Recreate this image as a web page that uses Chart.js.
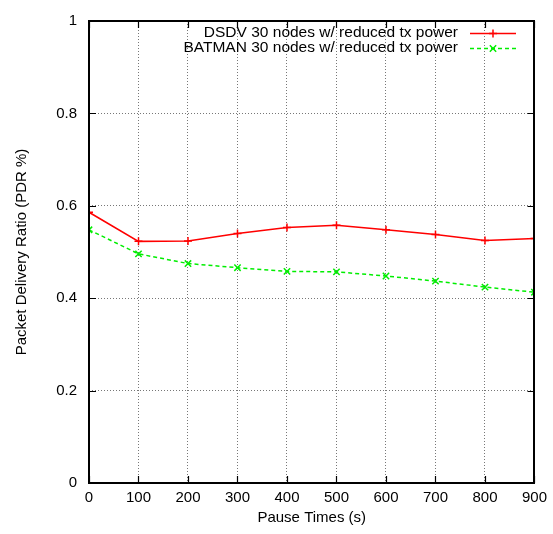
<!DOCTYPE html>
<html>
<head>
<meta charset="utf-8">
<script src="https://cdn.jsdelivr.net/npm/chart.js@4.4.0/dist/chart.umd.min.js"></script>
<style>
  body { margin: 0; background: #fff; }
  #wrap { width: 553px; height: 534px; }
</style>
</head>
<body>
<div id="wrap"><canvas id="chart" width="553" height="534"></canvas></div>
<script>
const pauseTimes = [0, 100, 200, 300, 400, 500, 600, 700, 800, 900];
const dsdvPdr = [0.586, 0.523, 0.524, 0.540, 0.553, 0.558, 0.548, 0.538, 0.525, 0.529];
const batmanPdr = [0.548, 0.496, 0.475, 0.466, 0.458, 0.457, 0.448, 0.437, 0.424, 0.413];
const seriesNames = ['DSDV 30 nodes w/ reduced tx power', 'BATMAN 30 nodes w/ reduced tx power'];

const FONT = 'Liberation Sans, Arial, sans-serif';
const toPoints = (ys) => pauseTimes.map((x, i) => ({ x: x, y: ys[i] }));

// gnuplot-ish frame: border, inward ticks on all sides, legend box
const frame = {
  id: 'frame',
  afterDraw(chart) {
    const ctx = chart.ctx;
    const { left, right, top, bottom } = chart.chartArea;
    const xs = chart.scales.x, ys = chart.scales.y;
    const tl = 7;
    ctx.save();
    ctx.strokeStyle = '#000';
    ctx.lineWidth = 1.2;
    ctx.beginPath();
    xs.ticks.forEach(t => {
      const px = Math.round(xs.getPixelForValue(t.value)) + 0.5;
      ctx.moveTo(px, bottom); ctx.lineTo(px, bottom - tl);
      ctx.moveTo(px, top); ctx.lineTo(px, top + tl);
    });
    ys.ticks.forEach(t => {
      const py = Math.round(ys.getPixelForValue(t.value)) + 0.5;
      ctx.moveTo(left, py); ctx.lineTo(left + tl, py);
      ctx.moveTo(right, py); ctx.lineTo(right - tl, py);
    });
    ctx.stroke();
    ctx.lineWidth = 2;
    ctx.strokeRect(Math.round(left), Math.round(top),
      Math.round(right - left), Math.round(bottom - top));

    // legend
    ctx.font = '15.5px ' + FONT;
    ctx.textAlign = 'right';
    ctx.textBaseline = 'middle';
    chart.data.datasets.forEach((ds, i) => {
      const y = 33 + i * 15;
      ctx.fillStyle = '#000';
      ctx.fillText(ds.label, 458, y);
      ctx.strokeStyle = ds.borderColor;
      ctx.lineWidth = ds.borderWidth;
      ctx.setLineDash(ds.borderDash || []);
      ctx.beginPath();
      ctx.moveTo(470, y + 0.5); ctx.lineTo(516, y + 0.5);
      ctx.stroke();
      ctx.setLineDash([]);
      Chart.helpers.drawPoint(ctx, {
        pointStyle: ds.pointStyle, radius: ds.pointRadius, borderWidth: ds.pointBorderWidth
      }, 493, y + 0.5);
    });
    ctx.restore();
  }
};

new Chart(document.getElementById('chart'), {
  type: 'line',
  data: {
    datasets: [
      {
        label: seriesNames[0],
        data: toPoints(dsdvPdr),
        borderColor: '#ff0000',
        backgroundColor: '#ff0000',
        borderWidth: 1.5,
        pointStyle: 'cross',
        pointRadius: 4,
        pointBorderWidth: 1.5,
        fill: false,
        tension: 0
      },
      {
        label: seriesNames[1],
        data: toPoints(batmanPdr),
        borderColor: '#00ee00',
        backgroundColor: '#00ee00',
        borderWidth: 1.5,
        borderDash: [4, 3],
        pointStyle: 'crossRot',
        pointRadius: 4.5,
        pointBorderWidth: 1.5,
        fill: false,
        tension: 0
      }
    ]
  },
  options: {
    responsive: false,
    animation: false,
    events: [],
    layout: { padding: { left: 0, right: 18, top: 17, bottom: 0 } },
    plugins: {
      legend: { display: false },
      tooltip: { enabled: false }
    },
    scales: {
      x: {
        type: 'linear',
        min: 0,
        max: 900,
        afterFit: (s) => { s.height = 51; },
        ticks: { stepSize: 100, color: '#000', font: { family: FONT, size: 15 }, padding: 6, maxRotation: 0 },
        grid: {
          drawTicks: false,
          color: (c) => (c.tick && (c.tick.value === 0 || c.tick.value === 900)) ? 'rgba(0,0,0,0)' : '#777',
          lineWidth: 1
        },
        border: { display: false, dash: [1, 2] },
        title: {
          display: true,
          text: 'Pause Times (s)',
          color: '#000',
          font: { family: FONT, size: 15 },
          padding: { top: 0, bottom: 7 }
        }
      },
      y: {
        min: 0,
        max: 1,
        afterFit: (s) => { s.width = 89; },
        ticks: {
          stepSize: 0.2, color: '#000', font: { family: FONT, size: 15 }, padding: 12,
          callback: (v) => String(Math.round(v * 10) / 10)
        },
        grid: {
          drawTicks: false,
          color: (c) => (c.tick && (c.tick.value === 0 || c.tick.value === 1)) ? 'rgba(0,0,0,0)' : '#777',
          lineWidth: 1
        },
        border: { display: false, dash: [1, 2] },
        title: {
          display: true,
          text: 'Packet Delivery Ratio (PDR %)',
          color: '#000',
          font: { family: FONT, size: 15 },
          padding: { top: 13, bottom: 0 }
        }
      }
    }
  },
  plugins: [frame]
});
</script>
</body>
</html>
